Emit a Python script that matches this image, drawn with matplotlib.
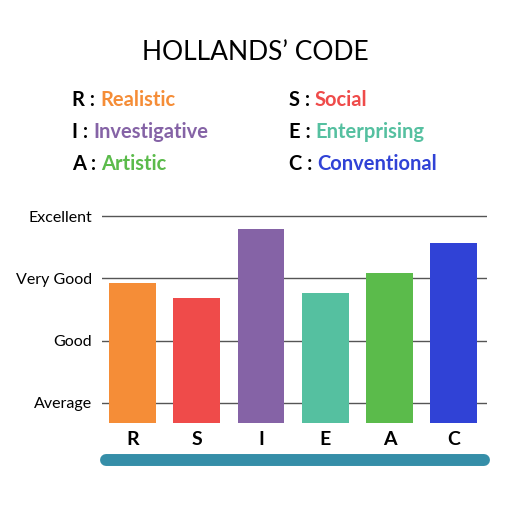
"""Holland's code bar chart"""
import matplotlib.pyplot as plt
from matplotlib.lines import Line2D

plt.rcParams['font.family'] = ['Lato', 'DejaVu Sans']

# data
codes = ['R', 'S', 'I', 'E', 'A', 'C']
scores = [1.93, 1.69, 2.79, 1.76, 2.09, 2.57]
colors = ['#f58d37', '#ef4b4a', '#8563a6', '#55c0a0', '#5bbb4b', '#3042d6']
levels = [0, 1, 2, 3]
level_labels = ['Average', 'Good', 'Very Good', 'Excellent']

legend_codes = ['R', 'I', 'A', 'S', 'E', 'C']
legend_names = ['Realistic', 'Investigative', 'Artistic', 'Social', 'Enterprising', 'Conventional']
legend_colors = ['#f58d37', '#8563a6', '#5bbb4b', '#ef4b4a', '#55c0a0', '#3042d6']

base = -0.32

fig = plt.figure(figsize=(5.12, 5.12), dpi=100)
ax = fig.add_axes([0.199, 0.174, 0.752, 0.416])

for lv in levels:
    ax.axhline(lv, color='#555555', linewidth=1.0, zorder=0)

x = range(len(codes))
ax.bar(x, [s - base for s in scores], width=0.73, bottom=base, color=colors, zorder=2)

ax.set_xlim(-0.48, 5.52)
ax.set_ylim(base, 3.1)
ax.set_yticks(levels)
ax.set_yticklabels(level_labels, fontsize=11.5)
ax.set_xticks(list(x))
ax.set_xticklabels(codes, fontsize=14, fontweight='bold')
ax.tick_params(length=0)
ax.tick_params(axis='y', pad=7)
ax.tick_params(axis='x', pad=6)
for s in ax.spines.values():
    s.set_visible(False)

fig.text(0.498, 0.898, "HOLLANDS\u2019 CODE", ha='center', va='center', fontsize=19)

# legend as coloured text
renderer = fig.canvas.get_renderer()
col_x = [0.141, 0.564]
row_y = [0.804, 0.743, 0.679]
for i, (c, name, col) in enumerate(zip(legend_codes, legend_names, legend_colors)):
    cx = col_x[i // 3]
    cy = row_y[i % 3]
    t = fig.text(cx, cy, c + " : ", ha='left', va='center', fontsize=14.5, fontweight='bold', color='black')
    bb = t.get_window_extent(renderer=renderer)
    x1 = fig.transFigure.inverted().transform((bb.x1, bb.y0))[0]
    fig.text(x1, cy, name, ha='left', va='center', fontsize=14.5, fontweight='bold', color=col)

# teal base bar
fig.add_artist(Line2D([0.207, 0.945], [0.1016, 0.1016], transform=fig.transFigure,
                      color='#358ea8', linewidth=8.6, solid_capstyle='round'))

fig.savefig('out.png', dpi=100)
